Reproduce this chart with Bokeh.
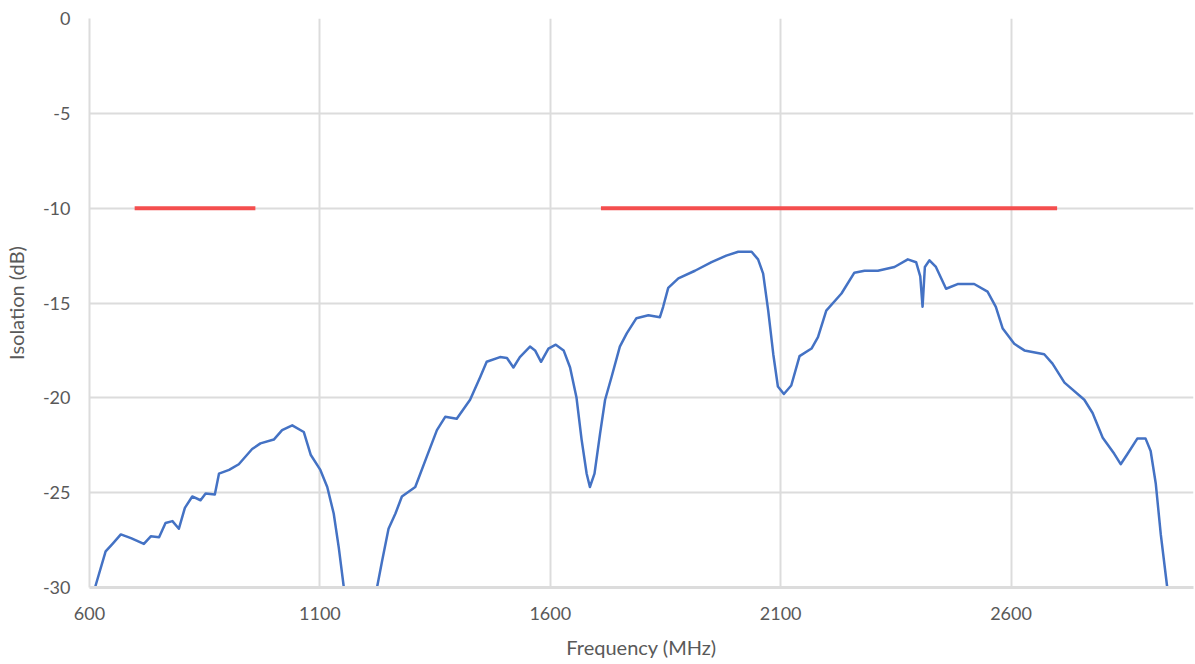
from bokeh.plotting import figure
from bokeh.models import FixedTicker, Range1d
from bokeh.embed import file_html
from bokeh.resources import INLINE

# Blue curve: isolation vs frequency
freq = [600, 612, 635, 650, 668, 690, 718, 733, 751, 765, 780, 794, 807, 823, 841, 852, 872, 881, 903, 924,
        953, 971, 1000, 1018, 1040, 1065, 1080, 1101, 1116, 1130, 1141, 1152, 1168, 1188, 1208, 1224, 1235,
        1249, 1264, 1278, 1307, 1332, 1354, 1372, 1397, 1426, 1448, 1462, 1491, 1506, 1520, 1534, 1556, 1567,
        1580, 1596, 1612, 1629, 1643, 1657, 1668, 1679, 1686, 1696, 1708, 1719, 1733, 1751, 1766, 1787, 1813,
        1838, 1845, 1856, 1878, 1914, 1950, 1982, 2008, 2037, 2051, 2062, 2073, 2084, 2094, 2107, 2123, 2141,
        2167, 2181, 2199, 2232, 2260, 2282, 2311, 2347, 2376, 2394, 2403, 2408, 2413, 2423, 2437, 2459, 2484,
        2520, 2549, 2567, 2582, 2607, 2629, 2672, 2690, 2716, 2759, 2777, 2799, 2824, 2838, 2853, 2874, 2892,
        2903, 2914, 2925, 2939, 2950]
iso = [-31.0, -30.0, -28.1, -27.7, -27.2, -27.4, -27.7, -27.3, -27.35, -26.6, -26.5, -26.9, -25.8, -25.2, -25.4,
       -25.05, -25.1, -24.0, -23.8, -23.5, -22.7, -22.4, -22.2, -21.7, -21.45, -21.8, -23.0, -23.8, -24.7, -26.1,
       -27.9, -30.0, -33.0, -35.0, -33.0, -30.0, -28.6, -26.9, -26.1, -25.2, -24.7, -23.1, -21.7, -21.0, -21.1,
       -20.1, -18.9, -18.1, -17.85, -17.9, -18.4, -17.85, -17.3, -17.5, -18.1, -17.4, -17.2, -17.5, -18.4, -20.0,
       -22.2, -24.0, -24.7, -24.0, -21.9, -20.1, -18.9, -17.3, -16.6, -15.8, -15.65, -15.75, -15.2, -14.2, -13.7,
       -13.3, -12.85, -12.5, -12.3, -12.3, -12.7, -13.45, -15.4, -17.7, -19.4, -19.8, -19.35, -17.8, -17.4, -16.8,
       -15.4, -14.5, -13.4, -13.3, -13.3, -13.1, -12.7, -12.85, -13.6, -15.2, -13.1, -12.75, -13.1, -14.25, -14.0,
       -14.0, -14.4, -15.2, -16.35, -17.15, -17.5, -17.7, -18.2, -19.2, -20.1, -20.8, -22.1, -22.95, -23.5, -22.95,
       -22.15, -22.15, -22.8, -24.5, -27.2, -30.0, -33.0]

# Red specification segments
band_start = [698, 1710]
band_end = [960, 2700]
band_level = [-10, -10]

x_ticks = [600, 1100, 1600, 2100, 2600]
y_ticks = [0, -5, -10, -15, -20, -25, -30]
y_tick_labels = ["0", "-5", "-10", "-15", "-20", "-25", "-30"]

n = min(len(freq), len(iso))
freq = freq[:n]
iso = iso[:n]

FONT = "Lato"
GRID = "#dcdcdc"
TXT = "#595959"

p = figure(width=1195, height=664, output_backend="svg", toolbar_location=None,
           x_range=Range1d(600, 2996), y_range=Range1d(-30, 0),
           min_border_left=87, min_border_top=18, min_border_bottom=77, min_border_right=2)
p.outline_line_color = None
p.background_fill_color = "white"
p.border_fill_color = "white"

p.xaxis.ticker = FixedTicker(ticks=x_ticks)
p.yaxis.ticker = FixedTicker(ticks=y_ticks)
p.xgrid.ticker = FixedTicker(ticks=x_ticks)
p.ygrid.ticker = FixedTicker(ticks=y_ticks)
p.yaxis.major_label_overrides = dict(zip(y_ticks, y_tick_labels))
for g in (p.xgrid, p.ygrid):
    g.grid_line_color = GRID
    g.grid_line_width = 2

for ax in (p.xaxis, p.yaxis):
    ax.major_tick_line_color = None
    ax.minor_tick_line_color = None
    ax.major_tick_out = 0
    ax.major_tick_in = 0
    ax.axis_line_color = GRID
    ax.axis_line_width = 2
    ax.major_label_text_font = FONT
    ax.major_label_text_font_size = "18px"
    ax.major_label_text_color = TXT
    ax.axis_label_text_font = FONT
    ax.axis_label_text_font_size = "20px"
    ax.axis_label_text_font_style = "normal"
    ax.axis_label_text_color = TXT

p.xaxis.major_label_standoff = 19
p.yaxis.major_label_standoff = 19
p.xaxis.axis_line_width = 3
p.xaxis.axis_label = "Frequency (MHz)"
p.yaxis.axis_label = "Isolation (dB)"
p.xaxis.axis_label_standoff = 12
p.yaxis.axis_label_standoff = 12

p.segment(x0=band_start, y0=band_level, x1=band_end, y1=band_level,
          line_color="#f44e4e", line_width=4)
p.line(freq, iso, line_color="#4472c4", line_width=2.5, line_join="round")

open("out.html", "w").write(file_html(p, INLINE))
